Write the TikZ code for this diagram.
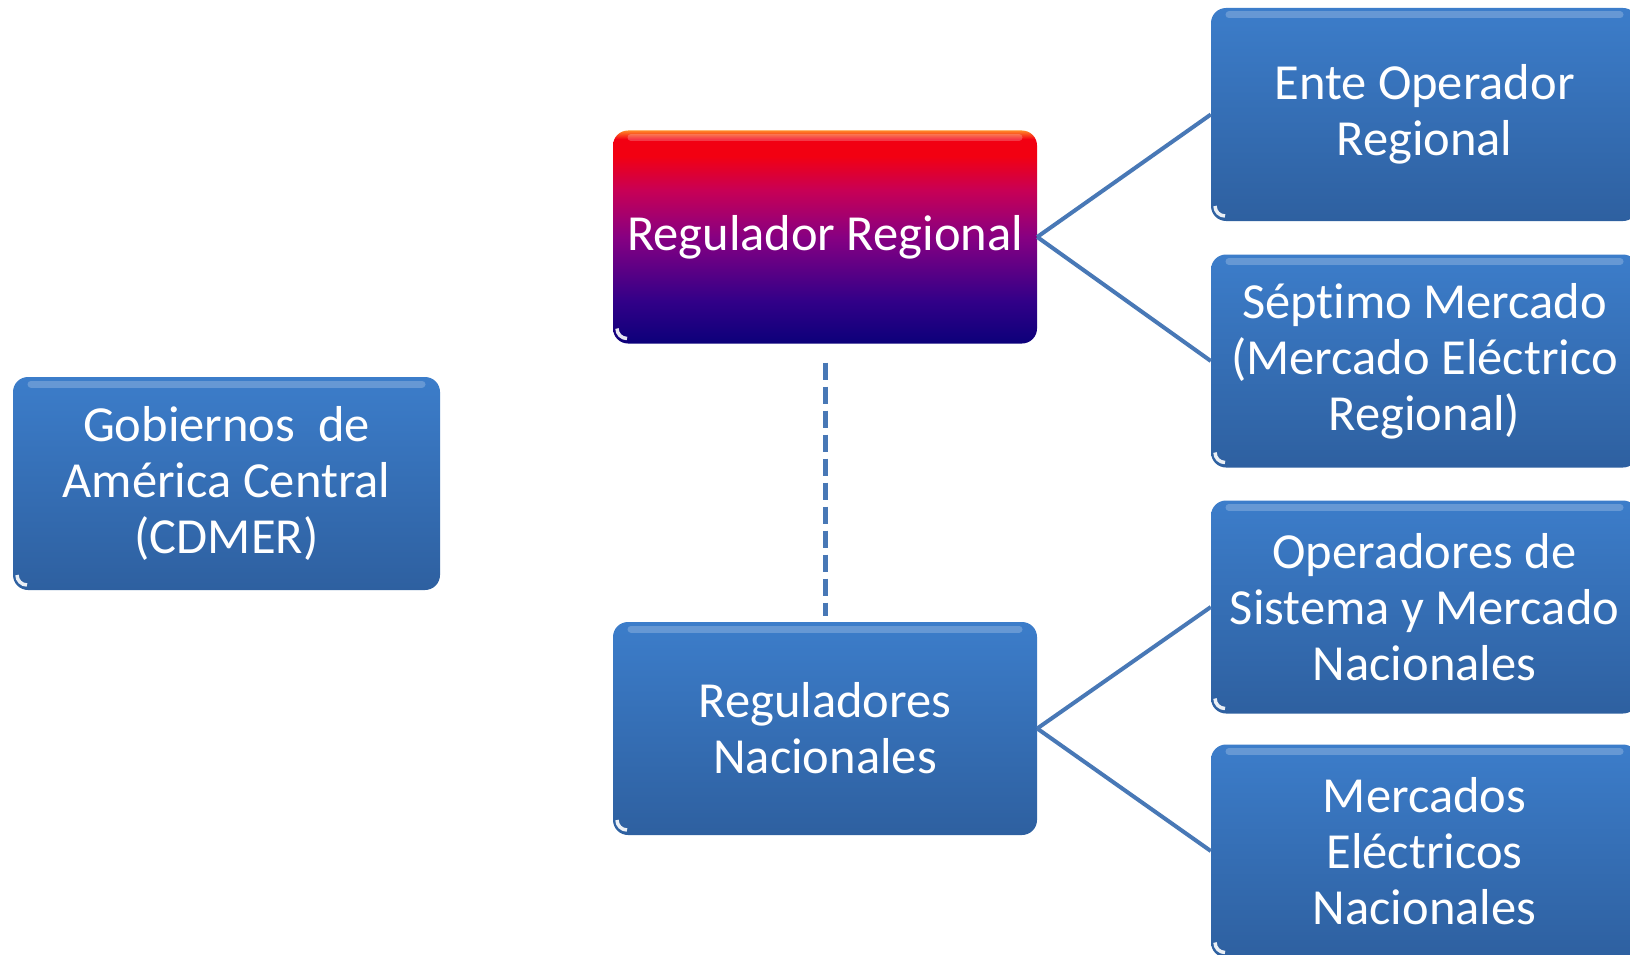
\documentclass[tikz,border=0pt]{standalone}
\usepackage{fontspec}
\setmainfont{Carlito}[Ligatures=NoCommon]
\definecolor{boxtop}{RGB}{60,125,202}
\definecolor{boxbot}{RGB}{46,96,160}
\definecolor{linkblue}{RGB}{72,120,182}
\definecolor{rnavy}{RGB}{12,0,122}
\definecolor{rblue}{RGB}{50,0,136}
\definecolor{rpurple}{RGB}{135,0,130}
\definecolor{rmag}{RGB}{200,0,85}
\definecolor{rred}{RGB}{242,0,18}
\definecolor{rorange}{RGB}{255,135,40}
\pgfdeclareverticalshading{regshade}{100bp}{color(0bp)=(rnavy); color(25bp)=(rnavy); color(35bp)=(rblue); color(50bp)=(rpurple); color(61bp)=(rmag); color(69bp)=(rred); color(73bp)=(rred); color(75bp)=(rorange); color(100bp)=(rorange)}
\tikzset{
  gloss/.style={path picture={
    \draw[white,opacity=0.22,line width=7pt,line cap=round]
      ([xshift=18pt,yshift=-7pt]path picture bounding box.north west) --
      ([xshift=-18pt,yshift=-7pt]path picture bounding box.north east);
    \draw[white,opacity=0.9,line width=3.5pt]
      ([xshift=4pt,yshift=15pt]path picture bounding box.south west) arc (180:270:10pt);
  }},
  bluebox/.style={rectangle, rounded corners=15pt, minimum width=424pt, minimum height=213pt,
    inner sep=0pt, align=center, text=white, font=\fontsize{50.5}{56}\selectfont,
    top color=boxtop, bottom color=boxbot, gloss},
  redbox/.style={bluebox, shading=regshade},
  rightbox/.style={bluebox, minimum width=427pt},
  link/.style={draw=linkblue, line width=4pt},
  dashlink/.style={draw=linkblue, line width=5pt, dash pattern=on 17pt off 7pt}
}
\begin{document}
\begin{tikzpicture}[x=1pt,y=-1pt]
\useasboundingbox (0,0) rectangle (1630,955);
\clip (0,0) rectangle (1630,955);
\fill[white] (0,0) rectangle (1630,955);
\node[redbox] (reg) at (825,237) {Regulador Regional};
\node[bluebox] (nac) at (825,728.5) {Reguladores\\Nacionales};
\node[bluebox, minimum width=427pt] (gob) at (226.5,483.5) {Gobiernos\ \ de\\América Central\\(CDMER)};
\node[rightbox] (eor) at (1424.5,114.5) {Ente Operador\\Regional};
\node[rightbox] (sep) at (1424.5,361) {Séptimo Mercado\\(Mercado Eléctrico\\Regional)};
\node[rightbox] (ops) at (1424.5,607) {Operadores de\\Sistema y Mercado\\Nacionales};
\node[rightbox] (mer) at (1424.5,851) {Mercados\\Eléctricos\\Nacionales};
\draw[link] (reg.east) -- (eor.west);
\draw[link] (reg.east) -- (sep.west);
\draw[link] (nac.east) -- (ops.west);
\draw[link] (nac.east) -- (mer.west);
\draw[dashlink, shorten <=19pt, shorten >=6pt] (reg.south) -- (nac.north);
\end{tikzpicture}
\end{document}
